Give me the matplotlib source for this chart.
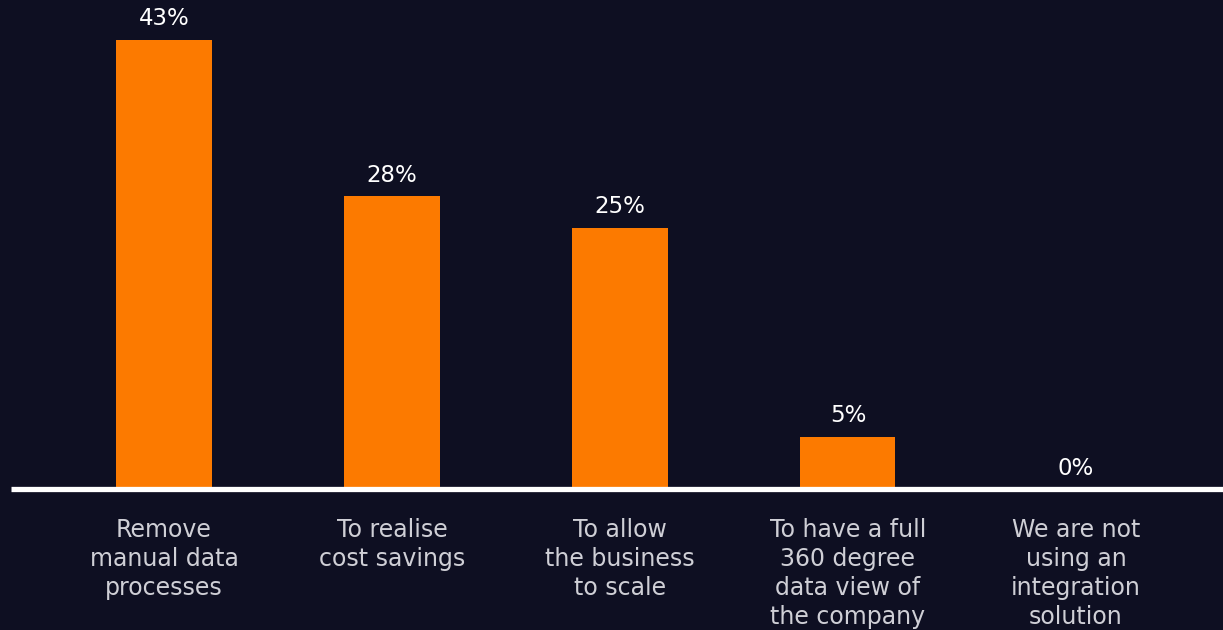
import matplotlib
matplotlib.use('Agg')
import matplotlib.pyplot as plt

# reasons for adopting an integration solution (% of respondents)
categories = [
    'Remove\nmanual data\nprocesses',
    'To realise\ncost savings',
    'To allow\nthe business\nto scale',
    'To have a full\n360 degree\ndata view of\nthe company',
    'We are not\nusing an\nintegration\nsolution',
]
values = [43, 28, 25, 5, 0]
value_labels = ['43%', '28%', '25%', '5%', '0%']

bg = '#0e0f22'
bar_color = '#fc7a00'

plt.rcParams['font.family'] = ['DejaVu Sans']

fig = plt.figure(figsize=(12.23, 6.3), dpi=100, facecolor=bg)
ax = fig.add_axes([11 / 1223, 141 / 630, 1212 / 1223, 489 / 630])
ax.set_facecolor(bg)

x = list(range(len(values)))
ax.bar(x, values, width=0.417, color=bar_color, zorder=2)
# baseline, drawn across the whole axes width
ax.plot([-0.671, 4.645], [0, 0], color='white', linewidth=3.8,
        solid_capstyle='butt', clip_on=False, zorder=3)

for xi, v, lab in zip(x, values, value_labels):
    ax.text(xi, v + 0.9, lab, ha='center', va='bottom', color='white',
            fontsize=16.5)

for xi, cat in zip(x, categories):
    ax.text(xi, -2.75, cat, ha='center', va='top', color='#cfcfd6',
            fontsize=17, linespacing=1.27)

ax.set_xlim(-0.671, 4.645)
ax.set_ylim(0, 46.8)
ax.axis('off')

fig.savefig('out.png', dpi=100, facecolor=bg)
